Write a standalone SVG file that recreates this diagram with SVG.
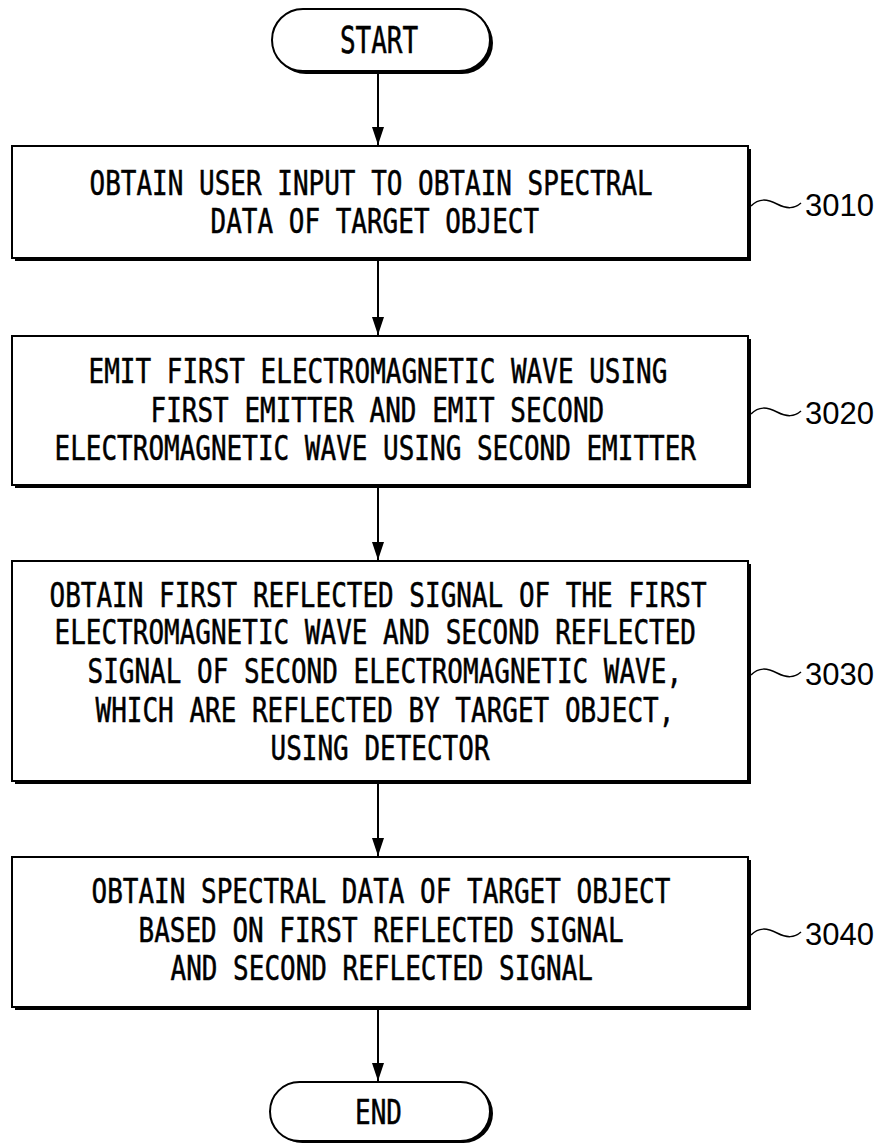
<svg xmlns="http://www.w3.org/2000/svg" width="880" height="1144" viewBox="0 0 880 1144">
<defs>
<style>
.box{fill:#fff;stroke:#000;stroke-width:2}
.sh{fill:#000}
.t{font-family:"DejaVu Sans Mono","Liberation Mono",monospace;font-size:26px;fill:#000;stroke:#000;stroke-width:0.4}
.lbl{font-family:"Liberation Sans",Arial,sans-serif;font-size:31px;fill:#000}
.sq{fill:none;stroke:#000;stroke-width:1.5}
.conn{stroke:#000;stroke-width:2;fill:none}
</style>
<marker id="ah" markerUnits="userSpaceOnUse" markerWidth="18" markerHeight="12" refX="18" refY="6" orient="auto" viewBox="0 0 18 12">
<path d="M0,0 L18,6 L0,12 Z" fill="#000"/>
</marker>
</defs>
<rect width="880" height="1144" fill="#fff"/>

<g id="connectors">
<line class="conn" x1="378" y1="72" x2="378" y2="145" marker-end="url(#ah)"/>
<line class="conn" x1="378" y1="261" x2="378" y2="335" marker-end="url(#ah)"/>
<line class="conn" x1="378" y1="488" x2="378" y2="560" marker-end="url(#ah)"/>
<line class="conn" x1="378" y1="784" x2="378" y2="856" marker-end="url(#ah)"/>
<line class="conn" x1="378" y1="1010" x2="378" y2="1081" marker-end="url(#ah)"/>
</g>

<g id="start">
<rect class="sh" x="275" y="12" width="218" height="62" rx="31"/>
<rect class="box" x="272" y="9" width="218" height="62" rx="31"/>
<text class="t" transform="matrix(1,0,0,1.42,379,53)" text-anchor="middle">START</text>
</g>

<g id="n3010">
<rect class="sh" x="15" y="149" width="736" height="112"/>
<rect class="box" x="12" y="146" width="736" height="112"/>
<text class="t" transform="matrix(1,0,0,1.33,89.5,195)">OBTAIN USER INPUT TO OBTAIN SPECTRAL</text>
<text class="t" transform="matrix(1,0,0,1.33,210.5,233)">DATA OF TARGET OBJECT</text>
<path class="sq" d="M751,206 C759,198 767,199 777,204 C787,209 794,209 801,203"/>
<text class="lbl" x="805" y="215.5">3010</text>
</g>

<g id="n3020">
<rect class="sh" x="15" y="339" width="736" height="149"/>
<rect class="box" x="12" y="336" width="736" height="149"/>
<text class="t" transform="matrix(1,0,0,1.33,88.5,383)">EMIT FIRST ELECTROMAGNETIC WAVE USING</text>
<text class="t" transform="matrix(1,0,0,1.33,150.5,422)">FIRST EMITTER AND EMIT SECOND</text>
<text class="t" transform="matrix(1,0,0,1.33,54.5,460)">ELECTROMAGNETIC WAVE USING SECOND EMITTER</text>
<path class="sq" d="M751,414 C759,406 767,407 777,412 C787,417 794,417 801,411"/>
<text class="lbl" x="805" y="424">3020</text>
</g>

<g id="n3030">
<rect class="sh" x="15" y="564" width="736" height="220"/>
<rect class="box" x="12" y="561" width="736" height="220"/>
<text class="t" transform="matrix(1,0,0,1.33,49.5,607)">OBTAIN FIRST REFLECTED SIGNAL OF THE FIRST</text>
<text class="t" transform="matrix(1,0,0,1.33,54.5,644)">ELECTROMAGNETIC WAVE AND SECOND REFLECTED</text>
<text class="t" transform="matrix(1,0,0,1.33,87.5,683)">SIGNAL OF SECOND ELECTROMAGNETIC WAVE,</text>
<text class="t" transform="matrix(1,0,0,1.33,95.5,722)">WHICH ARE REFLECTED BY TARGET OBJECT,</text>
<text class="t" transform="matrix(1,0,0,1.33,270.5,760)">USING DETECTOR</text>
<path class="sq" d="M751,675 C759,667 767,668 777,673 C787,678 794,678 801,672"/>
<text class="lbl" x="805" y="684.5">3030</text>
</g>

<g id="n3040">
<rect class="sh" x="15" y="860" width="736" height="150"/>
<rect class="box" x="12" y="857" width="736" height="150"/>
<text class="t" transform="matrix(1,0,0,1.33,91.5,903)">OBTAIN SPECTRAL DATA OF TARGET OBJECT</text>
<text class="t" transform="matrix(1,0,0,1.33,138.5,942)">BASED ON FIRST REFLECTED SIGNAL</text>
<text class="t" transform="matrix(1,0,0,1.33,170.5,980)">AND SECOND REFLECTED SIGNAL</text>
<path class="sq" d="M751,935 C759,927 767,928 777,933 C787,938 794,938 801,932"/>
<text class="lbl" x="805" y="945">3040</text>
</g>

<g id="end">
<rect class="sh" x="273" y="1084" width="220" height="59" rx="29.5"/>
<rect class="box" x="270" y="1082" width="220" height="59" rx="29.5"/>
<text class="t" transform="matrix(1,0,0,1.33,378.5,1124)" text-anchor="middle">END</text>
</g>
</svg>
